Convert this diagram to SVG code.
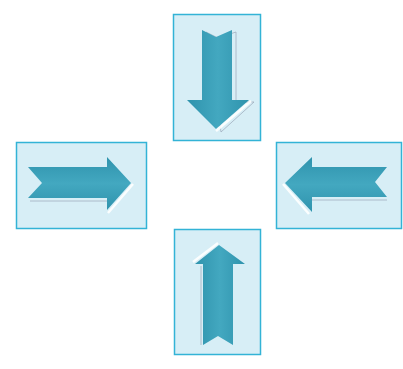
<svg xmlns="http://www.w3.org/2000/svg" width="403" height="369" viewBox="0 0 403 369">
<defs>
<style>
.box{fill:#d7eef6;stroke:#33b3d6;stroke-width:1.5}
.arrow{fill:#3a9fb7}
.shine{fill:none;stroke:#ffffff;stroke-width:2.5;opacity:0.9}
.shade{fill:none;stroke:#9aa6b8;stroke-width:1;opacity:0.7}
</style>
<linearGradient id="gv" x1="0" y1="0" x2="1" y2="0">
<stop offset="0" stop-color="#2f93ad"/><stop offset="0.5" stop-color="#43a8c0"/><stop offset="1" stop-color="#2f93ad"/>
</linearGradient>
<linearGradient id="gh" x1="0" y1="0" x2="0" y2="1">
<stop offset="0" stop-color="#2f93ad"/><stop offset="0.5" stop-color="#43a8c0"/><stop offset="1" stop-color="#2f93ad"/>
</linearGradient>
</defs>
<rect width="403" height="369" fill="#ffffff"/>
<g id="top">
<rect class="box" x="173.5" y="14.5" width="87" height="126"/>
<polygon class="shade" points="206,32 218,38 236,32 236,102 254,102 221,132"/>
<polygon class="arrow" fill="url(#gv)" style="fill:url(#gv)" points="202,30 216,37 232,30 232,100 249,100 216,129 187,100 202,100"/>
<polyline class="shine" points="216,131 251,101"/>
</g>
<g id="left">
<rect class="box" x="16.5" y="142.5" width="130" height="86"/>
<polyline class="shade" points="30,201 110,201"/>
<polygon class="arrow" style="fill:url(#gh)" points="28,167 107,167 107,157 131,183 107,210 107,198 28,198 42,183"/>
<polyline class="shine" points="133,184 108,213"/>
</g>
<g id="right">
<rect class="box" x="276.5" y="142.5" width="125" height="86"/>
<polyline class="shade" points="312,200 387,200"/>
<polygon class="arrow" style="fill:url(#gh)" points="285,183 312,157 312,167 387,167 375,182 387,197 312,197 312,212"/>
<polyline class="shine" points="283,184 309,214"/>
</g>
<g id="bottom">
<rect class="box" x="174.5" y="229.5" width="86" height="125"/>
<polyline class="shade" points="201,266 201,345"/>
<polygon class="arrow" style="fill:url(#gv)" points="219,245 245,264 233,264 233,345 218,336 203,345 203,264 195,264"/>
<polyline class="shine" points="193,262 218,243"/>
</g>
</svg>
